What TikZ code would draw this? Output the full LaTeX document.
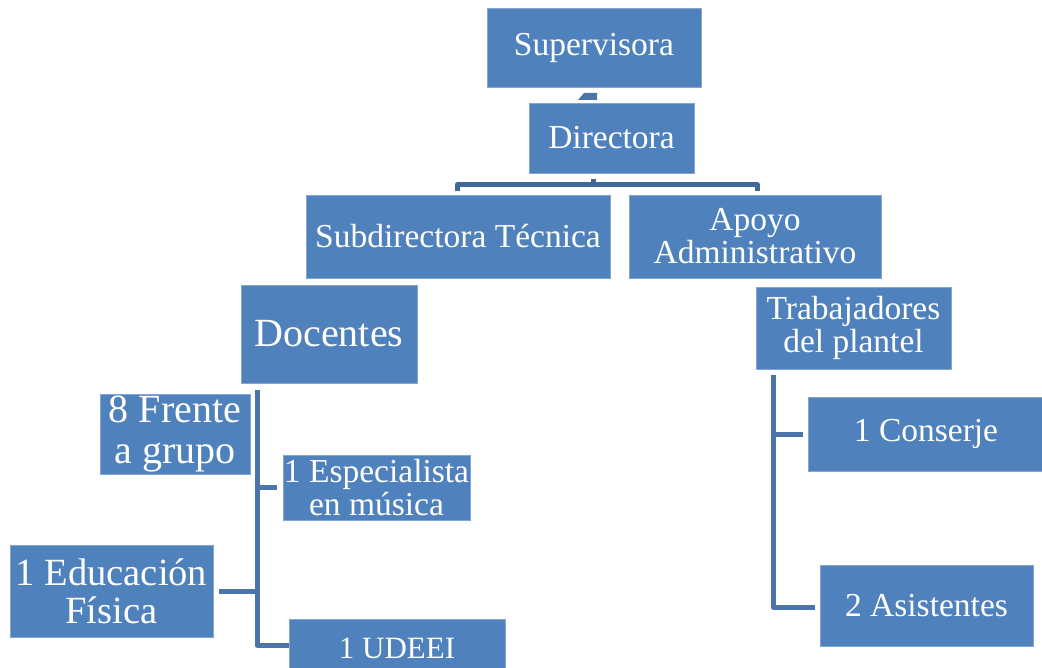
\documentclass[tikz,border=0pt]{standalone}
\usepackage{fontspec}
\setmainfont{Liberation Serif}
\definecolor{boxblue}{HTML}{4F81BD}
\definecolor{linkblue}{HTML}{4A74AA}
\definecolor{brblue}{HTML}{3F6797}
\begin{document}
\begin{tikzpicture}[x=1pt,y=-1pt,
  box/.style={fill=boxblue,draw=boxblue!70!white,line width=0.6pt,text=white,inner sep=0pt,align=center,font=\fontsize{33.5}{33}\selectfont},
  conn/.style={draw=linkblue,line width=5pt,line cap=butt,line join=round},
  brk/.style={draw=brblue,line width=5pt,line join=round}]
\useasboundingbox (0,0) rectangle (1042,668);
\node[box,minimum width=214pt,minimum height=79pt] (sup) at (594,47.5) {Supervisora};
\node[box,minimum width=165pt,minimum height=70pt] (dir) at (611.5,138) {Directora};
\node[box,minimum width=304pt,minimum height=83pt] (sub) at (458,236.5) {Subdirectora Técnica};
\node[box,minimum width=252pt,minimum height=83pt] (apo) at (755,236.5) {Apoyo\\Administrativo};
\node[box,minimum width=176pt,minimum height=98pt,font=\fontsize{40}{40}\selectfont] (doc) at (329,334) {Docentes};
\node[box,minimum width=195pt,minimum height=82pt] (tra) at (853.5,328) {Trabajadores\\del plantel};
\node[box,minimum width=150pt,minimum height=80pt,font=\fontsize{40}{41}\selectfont] (fre) at (175,434) {8 Frente\\a grupo};
\node[box,minimum width=187pt,minimum height=65pt] (esp) at (376.5,487.5) {1 Especialista\\en música};
\node[box,minimum width=203pt,minimum height=92pt,font=\fontsize{38.5}{38}\selectfont] (edu) at (111.5,591) {1 Educación\\Física};
\node[box,minimum width=216pt,minimum height=58pt,anchor=north] (ude) at (397,619) {\raisebox{-4pt}{\fontsize{31}{31}\selectfont 1 UDEEI}};
\node[box,minimum width=236pt,minimum height=74pt] (con) at (926,434) {1 Conserje};
\node[box,minimum width=213pt,minimum height=81pt] (asi) at (926.5,605.5) {2 Asistentes};
% fragment of connector to Supervisora
\coordinate (fa) at (578,100);
\coordinate (fb) at (584,93);
\coordinate (fc) at (597,93);
\coordinate (fd) at (597,100);
\fill[linkblue] (fa) -- (fb) -- (fc) -- (fd) -- cycle;
% bracket below Directora
\coordinate (bl) at (457,191);
\coordinate (br) at (757,191);
\draw[brk] (dir.south -| 593,0) ++(0,6) -- ++(0,6);
\draw[brk] (bl) -- (457,185) -- (757,185) -- (br);
% left tree
\coordinate (lt) at (257,390);
\coordinate (lb) at (257,645);
\draw[conn] (lt) -- (lb) -- (ude.west |- lb);
\draw[conn] (lt |- esp.west) -- ([xshift=-6pt]esp.west);
\draw[conn] (lt |- edu.east) -- ([xshift=6pt]edu.east);
% right tree
\coordinate (rt) at (773,375);
\coordinate (rb) at (773,607);
\draw[conn] (rt) -- (rb) -- ([xshift=-5pt]asi.west |- rb);
\draw[conn] (rt |- con.west) -- ([xshift=-5pt]con.west);
\end{tikzpicture}
\end{document}
